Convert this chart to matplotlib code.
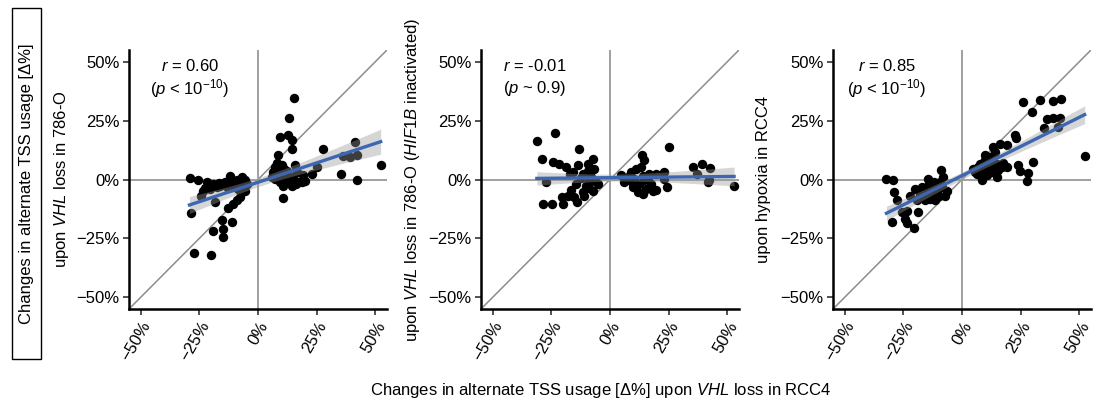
import numpy as np
import matplotlib.pyplot as plt
from matplotlib.patches import Rectangle
from matplotlib.ticker import FuncFormatter

plt.rcParams['font.family'] = ['Liberation Sans', 'DejaVu Sans']
plt.rcParams['mathtext.fontset'] = 'custom'
plt.rcParams['mathtext.rm'] = 'Liberation Sans'
plt.rcParams['mathtext.it'] = 'Liberation Sans:italic'

# x: change upon VHL loss in RCC4, y: change in the other condition (in %)
vhl786_x = [-29.2, -28.6, -25.4, -23.5, -21.8, -20.4, -19.0, -18.3, -16.2, -14.0, -11.9, -10.5,
            -9.1, -6.9, -6.3, -7.7, -10.5, -12.6, -15.5, -11.2, -19.0, -14.8, -15.0, -27.5,
            -20.1, -4.8, -8.4, -12.6, -24.4, -22.5, -17.5, -13.0, -9.5, -8.0, -5.5, -9.1,
            -14.0, -11.0, -7.0, -16.5, -5.5,
            15.4, 13.2, 9.4, 12.9, 14.3, 14.6, 8.4, 27.8, 41.3, 36.3, 39.1, 42.0, 52.3, 35.3,
            42.0, 10.8, 25.0, 22.9, 7.2, 10.1, 12.2, 15.7, 7.2, 9.4, 12.9, 14.3, 17.1, 19.3,
            18.6, 8.6, 11.5, 16.5, 15.0, 10.8, 6.5, 8.0, 6.0, 13.5, 20.0, 11.0, 16.0, 9.0]
vhl786_y = [0.7, -14.3, -0.1, -4.7, -1.1, -4.0, -1.8, -9.4, -2.6, -1.1, 1.3, -1.1,
            -0.1, 1.0, -3.3, -7.5, -10.4, -12.2, -17.4, -18.2, -21.7, -21.0, -24.5, -31.2,
            -31.9, -1.8, -4.0, -2.6, -6.8, -3.5, -3.0, -3.5, -2.5, -1.0, -4.7, -8.9,
            -2.0, -3.0, -2.2, -1.5, 0.0,
            34.6, 26.3, 18.0, 18.7, 16.6, 13.0, 10.2, 12.8, 15.9, 9.9, 9.5, 10.2, 6.0, 2.4,
            -0.4, -7.8, 5.2, 2.4, 5.2, 6.0, 3.8, 6.0, 0.3, -1.1, 0.3, -2.6, -1.1, 1.7,
            -1.1, 1.7, 1.7, 3.1, 1.0, -2.6, 3.1, 7.1, 1.0, -1.5, -0.5, 4.5, -2.0, 3.0]

hif1b_x = [-31.2, -23.4, -29.1, -24.4, -13.1, -7.4, -27.2, -28.4, -24.8, -19.9, -14.2, -20.4,
           -18.0, -15.2, -10.9, -21.6, -18.7, -13.7, -9.5, -6.7, -15.9, -11.6, -8.1, -5.2,
           -14.5, -10.2, -7.4, -11.6, -8.8, -9.5, -17.0, -12.5, -6.5, -9.0, -16.5,
           25.2, 13.5, 14.6, 35.6, 39.4, 42.7, 52.9, 37.0, 42.3, 41.8, 24.5, 23.1, 23.1,
           19.6, 19.6, 8.9, 11.1, 13.2, 7.5, 10.3, 14.6, 6.1, 9.7, 11.8, 13.9, 15.3, 17.4,
           16.7, 4.7, 12.5, 18.2, 10.0, 14.0, 8.0, 16.0]
hif1b_y = [16.3, 19.7, 8.8, 7.4, 13.1, 8.8, -1.1, -10.6, -10.6, -10.6, -9.7, -7.5,
           -6.8, -7.5, -6.8, 6.7, 5.2, 6.0, 6.7, 4.6, 3.1, 2.4, 1.0, -1.8,
           -1.8, -2.6, -4.7, -5.4, -1.1, 3.8, 2.5, 0.5, -0.5, -3.5, -4.5,
           14.0, 10.6, 8.4, 5.5, 6.4, 5.0, -2.6, 2.4, -0.4, -1.1, -3.3, 0.3, 3.1,
           2.4, -4.4, 3.1, 4.6, 5.2, 1.0, 0.3, -0.4, -1.1, -3.3, -5.4, -6.1, -4.0, -1.8,
           2.4, 1.7, -1.8, -4.7, -1.5, 1.5, 0.0, 0.5]

hypoxia_x = [-32.2, -29.3, -29.1, -27.7, -29.8, -25.4, -23.3, -24.3, -23.3, -20.4, -18.6, -22.1,
             -19.3, -20.0, -9.0, -17.2, -14.4, -15.1, -12.3, -10.8, -9.4, -8.0, -6.5, -11.5,
             -15.8, -7.3, -13.7, -16.0, -13.0, -11.0, -8.5, -10.0, -14.0, -18.0, -12.0,
             26.2, 33.3, 39.0, 42.2, 30.0, 36.2, 38.8, 41.9, 34.9, 41.0, 22.6, 23.0, 52.3,
             30.3, 24.0, 24.7, 28.2, 27.5, 19.0, 16.2, 13.3, 19.0, 4.8, 6.3, 7.7, 9.8, 11.2,
             12.0, 14.1, 14.8, 16.9, 8.4, 10.6, 13.3, 14.8, 7.0, 12.7, 9.1, 11.0, 15.5, 17.5,
             10.0, 5.5]
hypoxia_y = [0.3, -0.4, -5.4, -8.5, -18.2, -13.9, -13.2, -16.7, -18.6, -20.7, -13.9, -6.8,
             -8.9, -4.0, 4.1, -3.3, 0.3, -6.1, -2.6, -5.4, -1.1, 1.0, -4.7, -8.9,
             -8.9, -6.8, -8.2, -4.5, -5.0, -3.5, -3.0, -7.0, -2.0, -6.5, -1.0,
             32.9, 33.6, 33.2, 34.3, 28.6, 25.8, 26.3, 26.1, 21.8, 22.3, 18.7, 17.7, 9.8,
             7.4, 6.0, 3.4, 2.7, -0.7, 14.5, 14.9, 13.7, 5.2, 4.6, 2.4, 6.7, 8.1, 5.2,
             9.5, 11.6, 6.7, 5.2, -0.4, 1.7, 3.1, 1.0, 5.2, 6.7, 3.8, 3.0, 4.0, 7.0,
             10.5, 3.0]

panels = [
    (vhl786_x, vhl786_y, r'upon $\it{VHL}$ loss in 786-O', '0.60', r'< 10$^{\mathregular{-10}}$'),
    (hif1b_x, hif1b_y, r'upon $\it{VHL}$ loss in 786-O ($\it{HIF1B}$ inactivated)', '-0.01', r'~ 0.9'),
    (hypoxia_x, hypoxia_y, r'upon hypoxia in RCC4', '0.85', r'< 10$^{\mathregular{-10}}$'),
]
ticks = [-50, -25, 0, 25, 50]

fig = plt.figure(figsize=(10.95, 4.04), dpi=100)
lefts = [129, 481, 833]
label_x = [-0.225, -0.23, -0.24]
text_pos = [(-29, 'center'), (-45.5, 'left'), (-32, 'center')]


def pct(v, pos):
    return f'{v:.0f}%'.replace('-', '\u2212')


for i, (x, y, ylab, r, p) in enumerate(panels):
    ax = fig.add_axes([lefts[i] / 1095, 95 / 404, 258 / 1095, 259 / 404])
    x = np.array(x)
    y = np.array(y)
    ax.plot([-55, 55], [-55, 55], color='#8c8c8c', lw=1.1, zorder=1)
    ax.axhline(0, color='#a0a0a0', lw=1.4, zorder=1)
    ax.axvline(0, color='#a0a0a0', lw=1.4, zorder=1)
    ax.scatter(x, y, s=46, color='black', zorder=3, linewidths=0)

    # linear fit with 95% confidence band
    b, a = np.polyfit(x, y, 1)
    n = len(x)
    xs = np.linspace(x.min(), x.max(), 100)
    resid = y - (a + b * x)
    se = np.sqrt(np.sum(resid ** 2) / (n - 2))
    band = 1.98 * se * np.sqrt(1 / n + (xs - x.mean()) ** 2 / np.sum((x - x.mean()) ** 2))
    ax.fill_between(xs, a + b * xs - band, a + b * xs + band, color='#999999', alpha=0.4,
                    lw=0, zorder=4)
    ax.plot(xs, a + b * xs, color='#3e67b1', lw=2.4, zorder=5)

    tx, ha = text_pos[i]
    ax.text(tx, 48, r'$\it{r}$ = ' + r, ha=ha, va='center', fontsize=12)
    ax.text(tx, 38.5, r'($\it{p}$ ' + p + ')', ha=ha, va='center', fontsize=12)

    ax.set_xlim(-55, 55)
    ax.set_ylim(-55, 55)
    ax.set_xticks(ticks)
    ax.set_yticks(ticks)
    ax.xaxis.set_major_formatter(FuncFormatter(pct))
    ax.yaxis.set_major_formatter(FuncFormatter(pct))
    for lab in ax.get_xticklabels():
        lab.set_rotation(60)
        lab.set_ha('right')
        lab.set_rotation_mode('anchor')
    ax.tick_params(labelsize=12, width=1.2, length=4, color='#333333', pad=3)
    ax.spines['top'].set_visible(False)
    ax.spines['right'].set_visible(False)
    ax.spines['left'].set_linewidth(1.8)
    ax.spines['bottom'].set_linewidth(1.8)
    ax.set_ylabel(ylab, fontsize=12)
    ax.yaxis.set_label_coords(label_x[i], 0.5)

fig.text(601 / 1095, 14 / 404, r'Changes in alternate TSS usage [Δ%] upon $\it{VHL}$ loss in RCC4',
         ha='center', va='center', fontsize=12)
fig.text(26.5 / 1095, (404 - 183.5) / 404, 'Changes in alternate TSS usage [Δ%]',
         rotation=90, ha='center', va='center', fontsize=12)
fig.patches.append(Rectangle((12 / 1095, (404 - 359) / 404), 29 / 1095, 351 / 404,
                             transform=fig.transFigure, fill=False, ec='black', lw=1.0))

fig.savefig('out.png', dpi=100)
